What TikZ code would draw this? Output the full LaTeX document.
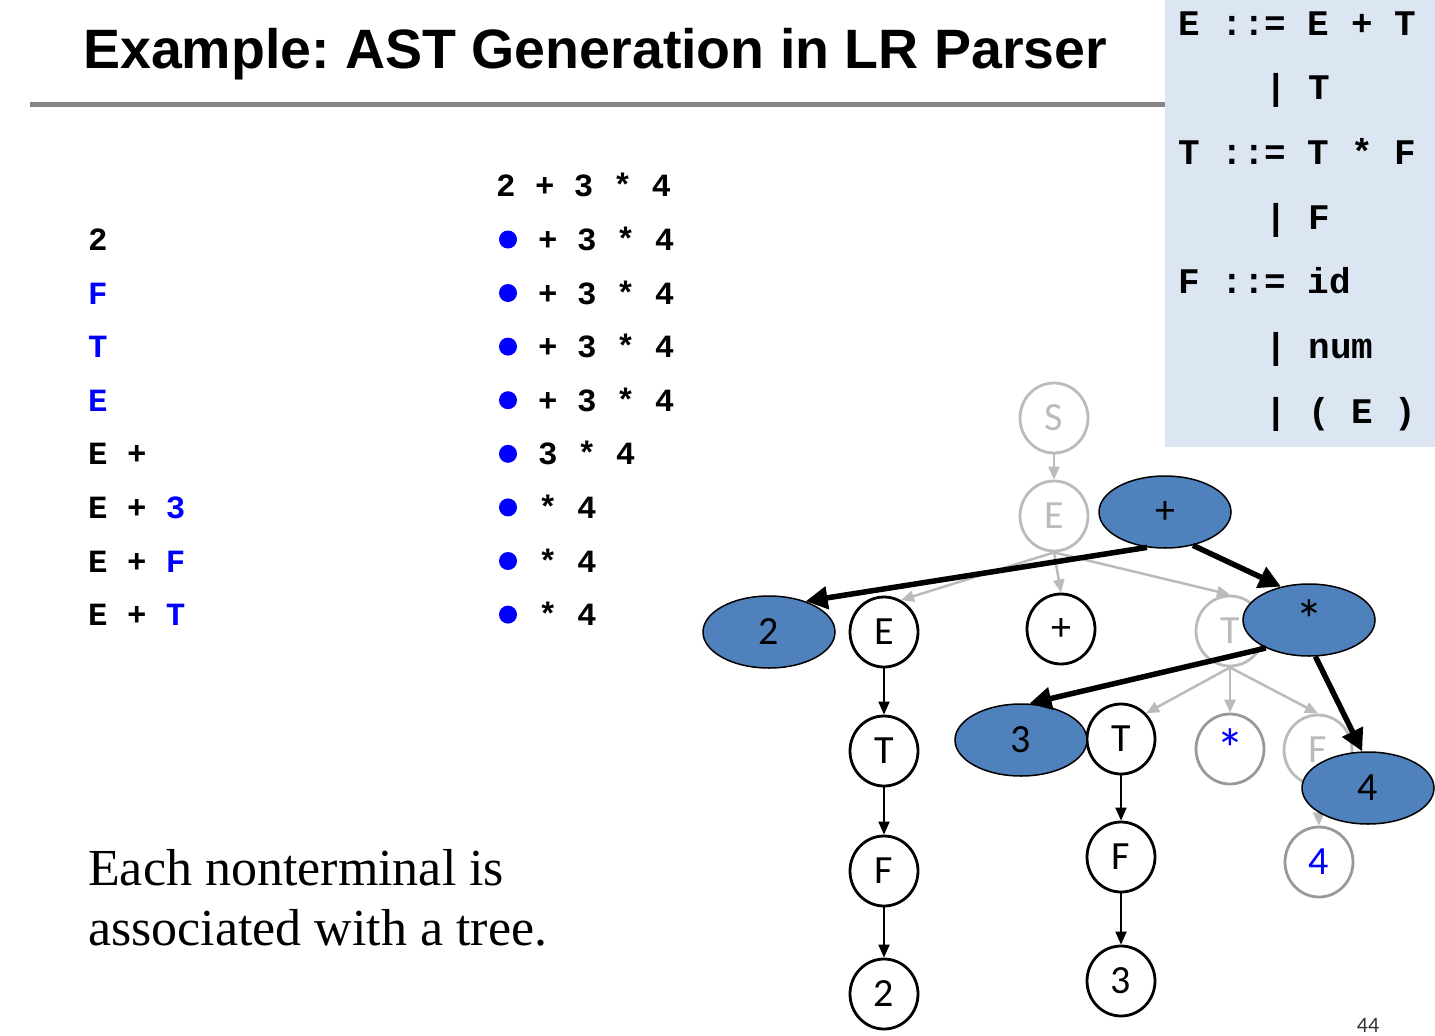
\documentclass[tikz,border=0pt]{standalone}
\usepackage{fontspec}
\setmainfont{Liberation Serif}
\newfontfamily\titlefont{Liberation Sans}
\newfontfamily\codefont{Liberation Mono}
\newfontfamily\treefont{Carlito}
\usetikzlibrary{shapes.geometric, arrows.meta, positioning}
\frenchspacing

\definecolor{astblue}{HTML}{4F81BD}
\definecolor{gramblue}{HTML}{DCE6F2}
\definecolor{rulegray}{HTML}{858585}
\definecolor{fadegray}{HTML}{BBBBBB}
\definecolor{midgray}{HTML}{999999}

% bigger star for the tree nodes
\newcommand{\treestar}{\raisebox{-4pt}{\scalebox{1.4}{*}}}

\tikzset{
  tnode/.style={ellipse, draw, line width=2.8pt, minimum width=68pt, minimum height=70pt,
    inner sep=0pt, font=\treefont\fontsize{40}{40}\selectfont},
  fnode/.style={tnode, draw=fadegray, text=fadegray},
  snode/.style={tnode, draw=midgray, text=blue},
  astnode/.style={ellipse, draw, line width=1.5pt, fill=astblue, minimum width=132pt,
    minimum height=72pt, inner sep=0pt, font=\treefont\fontsize{40}{40}\selectfont},
  tedge/.style={->, line width=2pt},
  fedge/.style={->, line width=2.5pt, fadegray},
  astedge/.style={-{Triangle[length=22pt,width=22pt]}, line width=5.5pt},
  code/.style={anchor=base west, inner sep=0pt, font=\codefont\bfseries\fontsize{32.4}{32.4}\selectfont},
  gram/.style={code, font=\codefont\bfseries\fontsize{36}{36}\selectfont},
}

\begin{document}
\begin{tikzpicture}[x=1pt, y=-1pt, >={Triangle[length=13pt,width=11pt]}]

  \useasboundingbox (0,0) rectangle (1435,1036);

  % title and rule
  \node[anchor=base west, inner sep=0pt, font=\titlefont\bfseries\fontsize{55.5}{55.5}\selectfont]
    (title) at (83,68) {Example: AST Generation in LR Parser};
  \draw[rulegray, line width=5pt] (30,104) -- (1165,104);

  % grammar
  \fill[gramblue] (1165,0) rectangle (1435,447);
  \foreach \yb/\xo/\txt [count=\i] in {35/1178/{E ::= E + T}, 99.7/1265/{| T},
      164.4/1178/{T ::= T * F}, 229/1265/{| F}, 293.8/1178/{F ::= id},
      358.5/1265/{| num}, 423.2/1265/{| ( E )}}
    \node[gram] (rule\i) at (\xo,\yb) {\txt};

  % stack and input
  \node[code] (input) at (496,196) {2 + 3 * 4};
  \foreach \yb/\stk/\inp [count=\i] in {
      250.5/{2}/{+ 3 * 4},
      304/{\textcolor{blue}{F}}/{+ 3 * 4},
      357.6/{\textcolor{blue}{T}}/{+ 3 * 4},
      411.2/{\textcolor{blue}{E}}/{+ 3 * 4},
      464.8/{E +}/{3 * 4},
      518.4/{E + \textcolor{blue}{3}}/{* 4},
      572/{E + \textcolor{blue}{F}}/{* 4},
      625.6/{E + \textcolor{blue}{T}}/{* 4}} {
    \node[code] (stack\i) at (88,\yb) {\stk};
    \node[circle, fill=blue, inner sep=0pt, minimum size=18pt] (dot\i) at (508,\yb-11) {};
    \node[code] (rest\i) at (538,\yb) {\inp};
  }

  % parse tree
  \node[fnode] (S) at (1054,418) {S};
  \node[fnode] (E0) at (1054,516) {E};
  \node[tnode] (E1) at (884,632) {E};
  \node[tnode] (plus) at (1061,629) {+};
  \node[fnode] (T0) at (1230,631) {T};
  \node[tnode] (T1) at (884,751) {T};
  \node[tnode] (F1) at (884,871) {F};
  \node[tnode] (n2) at (884,994) {2};
  \node[tnode] (T2) at (1121,739) {T};
  \node[tnode] (F2) at (1121,857) {F};
  \node[tnode] (n3) at (1121,981) {3};
  \node[snode] (times) at (1230,749) {\treestar};
  \node[fnode] (F0) at (1318,750) {F};
  \node[snode] (n4) at (1319,862) {4};

  \draw[fedge] (S) -- (E0);
  \draw[fedge] (E0.south) -- (E1.62);
  \draw[fedge] (E0.south) -- (plus.north);
  \draw[fedge] (E0.south) -- (T0.north);
  \draw[fedge] (T0.south) -- (T2.north east);
  \draw[fedge] (T0.south) -- (times.north);
  \draw[fedge] (T0.south) -- (F0.north);
  \draw[fedge] (F0.south) -- (n4.north);

  \draw[tedge] (E1) -- (T1);
  \draw[tedge] (T1) -- (F1);
  \draw[tedge] (F1) -- (n2);
  \draw[tedge] (T2) -- (F2);
  \draw[tedge] (F2) -- (n3);

  % ast
  \node[astnode] (aplus) at (1165,512) {+};
  \node[astnode] (atimes) at (1309,620) {\treestar};
  \node[astnode] (a2) at (769,632) {2};
  \node[astnode] (a3) at (1021,740) {3};
  \node[astnode] (a4) at (1368,788) {4};

  \draw[astedge] (aplus.243) -- (a2.40);
  \draw[astedge] (aplus.310) -- (atimes.130);
  \draw[astedge] (atimes.213) -- (a3.77);
  \draw[astedge] (atimes.280) -- (a4.99);

  % note
  \node[anchor=base west, inner sep=0pt, font=\fontsize{52}{60}\selectfont]
    (note1) at (88,885) {Each nonterminal is};
  \node[anchor=base west, inner sep=0pt, font=\fontsize{52}{60}\selectfont]
    (note2) at (88,945) {associated with a tree.};

  \node[font=\treefont\fontsize{22}{22}\selectfont, text=black!80] (page) at (1368,1025) {44};

\end{tikzpicture}
\end{document}
